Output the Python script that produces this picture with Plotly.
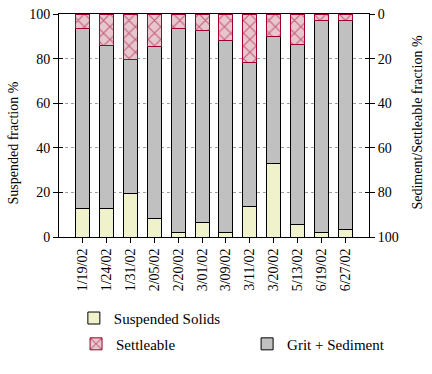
import plotly.graph_objects as go

dates = ["1/19/02", "1/24/02", "1/31/02", "2/05/02", "2/20/02", "3/01/02",
         "3/09/02", "3/11/02", "3/20/02", "5/13/02", "6/19/02", "6/27/02"]
suspended = [12.6, 12.6, 19.7, 8.5, 2.2, 6.3, 1.8, 13.5, 32.9, 5.5, 1.8, 3.3]
grit = [80.7, 73.5, 59.7, 77.0, 91.1, 86.1, 86.1, 64.8, 57.1, 80.7, 95.5, 94.0]
settleable = [6.7, 13.9, 20.6, 14.5, 6.7, 7.6, 12.1, 21.7, 10.0, 13.8, 2.7, 2.7]
y_ticks = [0, 20, 40, 60, 80, 100]

FONT = "Liberation Serif, Times New Roman, serif"
x = list(range(len(dates)))
bw = 0.59

fig = go.Figure()
fig.add_trace(go.Bar(x=x, y=suspended, name="Suspended Solids", width=bw,
                     marker=dict(color="#F0F2CC", line=dict(color="black", width=1)),
                     legend="legend"))
fig.add_trace(go.Bar(x=x, y=grit, name="Grit + Sediment", width=bw,
                     marker=dict(color="#C0C0C0", line=dict(color="black", width=1)),
                     legend="legend3"))
fig.add_trace(go.Bar(x=x, y=settleable, name="Settleable", width=bw,
                     marker=dict(color="#E8C6CE", line=dict(color="#A00030", width=1),
                                 pattern=dict(shape="x", fgcolor="#A00030", bgcolor="#E8C6CE",
                                              size=9, solidity=0.25)),
                     legend="legend2"))
for ax in ["y2", "y3", "y4"]:
    fig.add_trace(go.Scatter(x=[x[0]], y=[0], yaxis=ax, mode="markers",
                             marker=dict(opacity=0), showlegend=False, hoverinfo="skip"))

axis_common = dict(showline=True, linecolor="black", linewidth=1,
                   tickfont=dict(family=FONT, size=14, color="black"),
                   ticks="outside", ticklen=5, tickcolor="black", tickwidth=1,
                   tickvals=y_ticks, zeroline=False, automargin=False)

legend_font = dict(family=FONT, size=15, color="black")

fig.update_layout(
    width=432, height=374,
    margin=dict(l=59, r=63, t=14, b=137, autoexpand=False),
    paper_bgcolor="white", plot_bgcolor="white",
    barmode="stack",
    font=dict(family=FONT, size=14, color="black"),
    xaxis=dict(range=[-1, len(dates)], tickvals=x, ticktext=dates, tickangle=-90,
               showline=True, linecolor="black", linewidth=1, mirror=True,
               ticks="outside", ticklen=5, tickcolor="black", automargin=False,
               tickfont=dict(family=FONT, size=14, color="black"),
               showgrid=False, zeroline=False),
    yaxis=dict(**axis_common, range=[0, 100], side="left", showgrid=True,
               gridcolor="#A0A0A0", griddash="dot", gridwidth=1),
    yaxis2=dict(**axis_common, range=[100, 0], overlaying="y", side="right", showgrid=False),
    yaxis3=dict(range=[0, 100], tickvals=y_ticks, overlaying="y", side="left",
                ticks="inside", ticklen=4, tickcolor="black", showticklabels=False,
                showgrid=False, zeroline=False, showline=False),
    yaxis4=dict(range=[100, 0], tickvals=y_ticks, overlaying="y", side="right",
                ticks="inside", ticklen=4, tickcolor="black", showticklabels=False,
                showgrid=False, zeroline=False, showline=False),
    legend=dict(xref="container", yref="container", x=0.171, y=0.149,
                xanchor="left", yanchor="middle", font=legend_font,
                bgcolor="rgba(0,0,0,0)"),
    legend2=dict(xref="container", yref="container", x=0.176, y=0.08,
                 xanchor="left", yanchor="middle", font=legend_font,
                 bgcolor="rgba(0,0,0,0)"),
    legend3=dict(xref="container", yref="container", x=0.572, y=0.08,
                 xanchor="left", yanchor="middle", font=legend_font,
                 bgcolor="rgba(0,0,0,0)"),
    annotations=[
        dict(text="Suspended fraction %", xref="paper", yref="paper", x=-0.148, y=0.42,
             textangle=-90, showarrow=False, font=dict(family=FONT, size=14, color="black"),
             xanchor="center", yanchor="middle"),
        dict(text="Sediment/Settleable fraction %", xref="paper", yref="paper", x=1.157, y=0.516,
             textangle=-90, showarrow=False, font=dict(family=FONT, size=14, color="black"),
             xanchor="center", yanchor="middle"),
    ],
    showlegend=True,
)

fig.write_html("out.html", config={"displayModeBar": False},
               post_script="document.body.style.margin='0';document.body.style.padding='0';")
